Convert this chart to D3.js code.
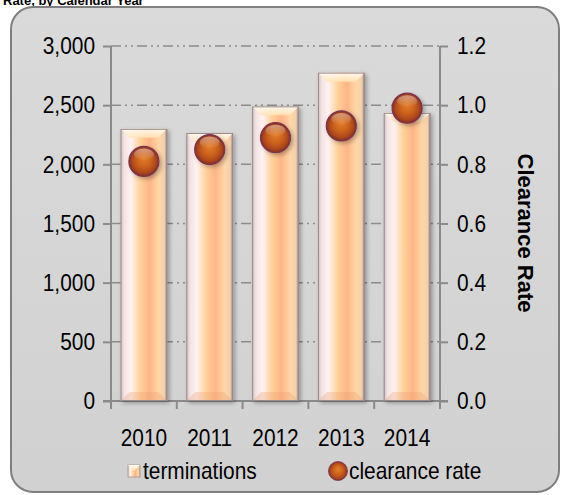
<!DOCTYPE html>
<html>
<head>
<meta charset="utf-8">
<script src="https://cdn.jsdelivr.net/npm/d3@7"></script>
<style>
  html, body { margin: 0; padding: 0; background: #ffffff; }
  svg { display: block; font-family: "Liberation Sans", Arial, sans-serif; }
</style>
</head>
<body>
<svg id="chart" width="565" height="495"></svg>
<script>
// Terminations and clearance rate by calendar year
const years = ["2010", "2011", "2012", "2013", "2014"];
const terminations = [2300, 2265, 2490, 2775, 2435];
const clearanceRate = [0.81, 0.85, 0.89, 0.93, 0.99];
const leftTicks = [0, 500, 1000, 1500, 2000, 2500, 3000];
const rightTicks = [0, 0.2, 0.4, 0.6, 0.8, 1.0, 1.2];

// Labels use a tall, condensed setting: large size squeezed horizontally
const labelSize = 24;
const squeeze = 0.87;
function condense(sel) {
  sel.each(function () {
    const t = d3.select(this);
    const x0 = +t.attr("x") || 0;
    t.attr("x", x0 / squeeze)
      .attr("transform", `scale(${squeeze},1)`)
      .attr("font-size", labelSize)
      .attr("font-family", "'Liberation Sans', Arial, sans-serif")
      .attr("fill", "#000");
  });
}

const svg = d3.select("#chart");
const defs = svg.append("defs");

// Panel background gradient
const bg = defs.append("linearGradient").attr("id", "bgGrad")
  .attr("x1", 0).attr("y1", 0).attr("x2", 0).attr("y2", 1);
bg.append("stop").attr("offset", "0%").attr("stop-color", "#dadada");
bg.append("stop").attr("offset", "100%").attr("stop-color", "#d1d1d1");

// Bar body: horizontal sheen
const barGrad = defs.append("linearGradient").attr("id", "barGrad")
  .attr("x1", 0).attr("y1", 0).attr("x2", 1).attr("y2", 0);
[["0%", "#cdbfc0"], ["8%", "#f3e3e3"], ["22%", "#fff2f3"], ["42%", "#ffd29a"],
 ["62%", "#ffb587"], ["82%", "#ffd7a6"], ["94%", "#f2cfae"], ["100%", "#8d7f80"]]
  .forEach(([o, c]) => barGrad.append("stop").attr("offset", o).attr("stop-color", c));

// Bar top bevel
const topGrad = defs.append("linearGradient").attr("id", "topGrad")
  .attr("x1", 0).attr("y1", 0).attr("x2", 0).attr("y2", 1);
topGrad.append("stop").attr("offset", "0%").attr("stop-color", "#fffdf6");
topGrad.append("stop").attr("offset", "100%").attr("stop-color", "#ffe3b6");

// Sphere marker
const ball = defs.append("radialGradient").attr("id", "ballGrad")
  .attr("cx", "50%").attr("cy", "50%").attr("r", "50%").attr("fx", "50%").attr("fy", "40%");
[["0%", "#e27e2c"], ["45%", "#cd641c"], ["80%", "#ae481c"], ["100%", "#802e26"]]
  .forEach(([o, c]) => ball.append("stop").attr("offset", o).attr("stop-color", c));
const shine = defs.append("linearGradient").attr("id", "shineGrad")
  .attr("x1", 0).attr("y1", 0).attr("x2", 0).attr("y2", 1);
shine.append("stop").attr("offset", "0%").attr("stop-color", "#ffffff").attr("stop-opacity", 0.45);
shine.append("stop").attr("offset", "100%").attr("stop-color", "#ffffff").attr("stop-opacity", 0);

// Soft shadow for bars and markers
const sh = defs.append("filter").attr("id", "shadow")
  .attr("x", "-30%").attr("y", "-30%").attr("width", "160%").attr("height", "160%");
sh.append("feDropShadow").attr("dx", 2).attr("dy", 2).attr("stdDeviation", 2)
  .attr("flood-color", "#000").attr("flood-opacity", 0.3);

// Title (top line, partially cut by the page edge)
svg.append("text").attr("x", 3).attr("y", 5)
  .attr("font-size", 13).attr("font-weight", "bold").attr("fill", "#000")
  .text("Rate, by Calendar Year");

// Panel
svg.append("rect").attr("x", 11).attr("y", 7).attr("width", 548).attr("height", 485)
  .attr("rx", 22).attr("ry", 22)
  .attr("fill", "url(#bgGrad)").attr("stroke", "#7f7f7f").attr("stroke-width", 2);

// Scales
const plotLeft = 111, plotRight = 440, plotTop = 46, plotBottom = 401;
const x = d3.scaleBand().domain(years).range([plotLeft, plotRight])
  .paddingInner(0.29).paddingOuter(0.145);
const yL = d3.scaleLinear().domain([0, 3000]).range([plotBottom, plotTop]);
const yR = d3.scaleLinear().domain([0, 1.2]).range([plotBottom, plotTop]);

// Gridlines (dash-dot-dot)
svg.append("g").selectAll("line").data(leftTicks.slice(1)).join("line")
  .attr("x1", plotLeft).attr("x2", plotRight)
  .attr("y1", d => yL(d)).attr("y2", d => yL(d))
  .attr("stroke", "#8c8c8c").attr("stroke-width", 1.5)
  .attr("stroke-dasharray", "10,4,2,4,2,4");

// Axes
const axisColor = "#8a8a8a";
const gL = svg.append("g").attr("transform", `translate(${plotLeft},0)`)
  .call(d3.axisLeft(yL).tickValues(leftTicks).tickSize(8).tickPadding(8)
    .tickFormat(d3.format(",")));
const gR = svg.append("g").attr("transform", `translate(${plotRight},0)`)
  .call(d3.axisRight(yR).tickValues(rightTicks).tickSize(8).tickPadding(9)
    .tickFormat(d3.format(".1f")));
[gL, gR].forEach(g => {
  g.select(".domain").attr("stroke", axisColor).attr("stroke-width", 2)
    .attr("d", `M0,${plotTop}V${plotBottom}`);
  g.selectAll(".tick line").attr("stroke", axisColor).attr("stroke-width", 2);
  g.selectAll(".tick text").call(condense);
});

// Category axis with ticks at band boundaries
const gX = svg.append("g");
gX.append("line").attr("x1", plotLeft - 8).attr("x2", plotRight + 8)
  .attr("y1", plotBottom).attr("y2", plotBottom)
  .attr("stroke", axisColor).attr("stroke-width", 2);
const edges = years.map(d => x(d) - x.step() * x.paddingInner() / 2).concat([plotRight]);
gX.selectAll("line.tk").data(edges).join("line").attr("class", "tk")
  .attr("x1", d => d).attr("x2", d => d).attr("y1", plotBottom).attr("y2", plotBottom + 8)
  .attr("stroke", axisColor).attr("stroke-width", 2);
gX.selectAll("text").data(years).join("text")
  .attr("x", d => x(d) + x.bandwidth() / 2).attr("y", 446)
  .attr("text-anchor", "middle")
  .text(d => d)
  .call(condense);

// Bars with bevelled faces
const bw = x.bandwidth();
const bev = 9;
const bars = svg.append("g").selectAll("g").data(years.map((y, i) => ({ y, v: terminations[i] })))
  .join("g").attr("filter", "url(#shadow)");
bars.append("rect")
  .attr("x", d => x(d.y)).attr("y", d => yL(d.v))
  .attr("width", bw).attr("height", d => yL(0) - yL(d.v))
  .attr("fill", "url(#barGrad)");
bars.append("path")
  .attr("d", d => {
    const x0 = x(d.y), x1 = x0 + bw, t = yL(d.v);
    return `M${x0},${t}L${x1},${t}L${x1 - bev},${t + bev}L${x0 + bev},${t + bev}Z`;
  })
  .attr("fill", "url(#topGrad)").attr("opacity", 0.9);
bars.append("path")
  .attr("d", d => {
    const x0 = x(d.y), x1 = x0 + bw, b = yL(0);
    return `M${x0},${b}L${x1},${b}L${x1 - bev},${b - bev}L${x0 + bev},${b - bev}Z`;
  })
  .attr("fill", "#e89a70").attr("opacity", 0.3);
bars.append("rect")
  .attr("x", d => x(d.y) + 0.5).attr("y", d => yL(d.v) + 0.5)
  .attr("width", bw - 1).attr("height", d => yL(0) - yL(d.v) - 1)
  .attr("fill", "none").attr("stroke", "#9b8a8a").attr("stroke-width", 1);

// Clearance rate markers
const dots = svg.append("g").selectAll("g").data(years.map((y, i) => ({ y, v: clearanceRate[i] })))
  .join("g").attr("filter", "url(#shadow)")
  .attr("transform", d => `translate(${x(d.y) + bw / 2},${yR(d.v)})`);
dots.append("circle").attr("r", 15).attr("fill", "url(#ballGrad)")
  .attr("stroke", "#7d3453").attr("stroke-width", 1.2);
dots.append("ellipse").attr("cx", 0).attr("cy", -7).attr("rx", 10).attr("ry", 6)
  .attr("fill", "url(#shineGrad)");

// Right axis title
svg.append("text").attr("transform", "translate(526,233) rotate(90)")
  .attr("text-anchor", "middle").attr("dy", "0.35em")
  .attr("font-size", 22).attr("font-weight", "bold").attr("fill", "#000")
  .text("Clearance Rate");

// Legend
const lg = svg.append("g");
lg.append("rect").attr("x", 128).attr("y", 465).attr("width", 12).attr("height", 12)
  .attr("fill", "url(#barGrad)").attr("stroke", "#b09080").attr("stroke-width", 0.8);
lg.append("path").attr("d", "M128,465L140,465L134,471Z").attr("fill", "url(#topGrad)");
lg.append("text").attr("x", 143).attr("y", 479).text("terminations").call(condense);
lg.append("circle").attr("cx", 338).attr("cy", 471).attr("r", 9.5)
  .attr("fill", "url(#ballGrad)").attr("stroke", "#7d3453").attr("stroke-width", 0.8);
lg.append("text").attr("x", 349).attr("y", 479).text("clearance rate").call(condense);
</script>
</body>
</html>
